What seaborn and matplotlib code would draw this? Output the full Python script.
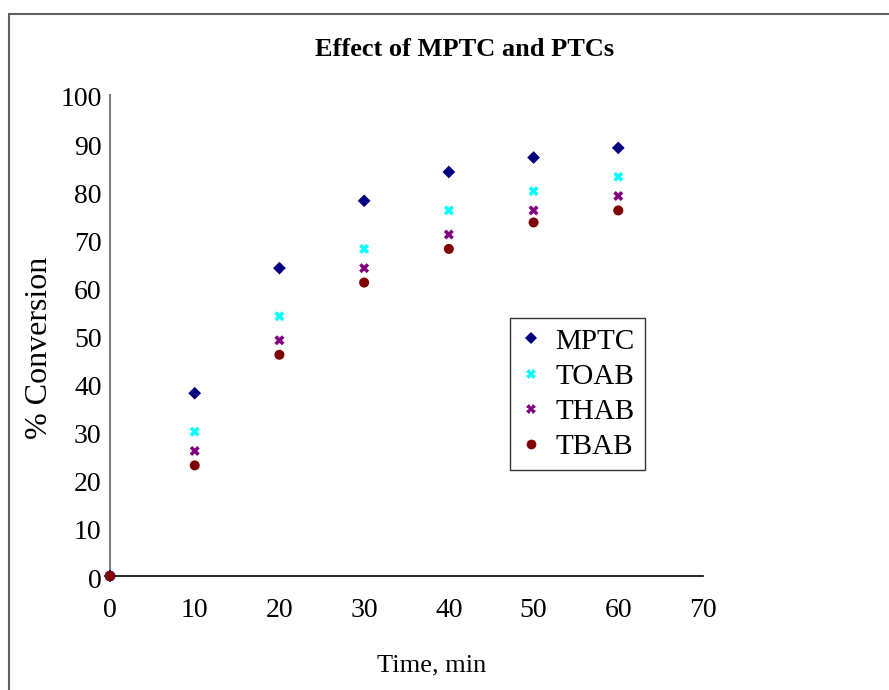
import matplotlib
matplotlib.use("Agg")
import matplotlib.pyplot as plt
import matplotlib.transforms as mtransforms
import seaborn as sns
import pandas as pd
from matplotlib.lines import Line2D

time_min = [0, 10, 20, 30, 40, 50, 60]
mptc = [0, 38, 64, 78, 84, 87, 89]
toab = [0, 30, 54, 68, 76, 80, 83]
thab = [0, 26, 49, 64, 71, 76, 79]
tbab = [0, 23, 46, 61, 68, 73.5, 76]
series_names = ["MPTC", "TOAB", "THAB", "TBAB"]
x_ticks = [0, 10, 20, 30, 40, 50, 60, 70]
y_ticks = [0, 10, 20, 30, 40, 50, 60, 70, 80, 90, 100]

df = pd.DataFrame({"Time": time_min * 4,
                   "Conversion": mptc + toab + thab + tbab,
                   "Series": sum([[n] * len(time_min) for n in series_names], [])})

sns.set_style("white")
plt.rcParams['font.family'] = ['Liberation Serif', 'DejaVu Serif']
plt.rcParams['text.color'] = 'black'
plt.rcParams['axes.labelcolor'] = 'black'
plt.rcParams['xtick.color'] = 'black'
plt.rcParams['ytick.color'] = 'black'

colors = {"MPTC": "#000080", "TOAB": "#00FFFF", "THAB": "#800080", "TBAB": "#800000"}
markers = {"MPTC": "D", "TOAB": "X", "THAB": "X", "TBAB": "o"}
sizes = {"MPTC": 42, "TOAB": 52, "THAB": 52, "TBAB": 52}

fig = plt.figure(figsize=(8.89, 6.9), dpi=100)
ax = fig.add_axes([110/889, 1-576/690, (703-110)/889, (576-95)/690])

for name in series_names:
    sub = df[df["Series"] == name]
    sns.scatterplot(data=sub, x="Time", y="Conversion", ax=ax, color=colors[name],
                    marker=markers[name], s=sizes[name], edgecolor="none",
                    linewidth=0, legend=False, clip_on=False, zorder=3)

ax.set_xlim(0, 70)
ax.set_ylim(0, 100)
ax.set_xticks(x_ticks)
ax.set_yticks(y_ticks)
ax.set_xticklabels([str(t) for t in x_ticks], fontsize=20, color="black")
ax.set_yticklabels([str(t) for t in y_ticks], fontsize=20, color="black")
ax.tick_params(axis="x", direction="in", length=6, width=1, color="black", pad=16)
ax.tick_params(axis="y", direction="out", length=5, width=1, color="black", pad=1)
offset = mtransforms.ScaledTranslation(0, -5/100, fig.dpi_scale_trans)
for lbl in ax.get_yticklabels():
    lbl.set_verticalalignment("center")
    lbl.set_transform(lbl.get_transform() + offset)
for s in ["top", "right"]:
    ax.spines[s].set_visible(False)
ax.spines["left"].set_color("#808080")
ax.spines["left"].set_linewidth(1.5)
ax.spines["bottom"].set_color("black")
ax.spines["bottom"].set_linewidth(1.2)

ax.set_xlabel("")
ax.set_ylabel("")
fig.text(432/889, 1-665/690, "Time, min", ha="center", va="center", fontsize=19)
fig.text(40/889, 1-348/690, "% Conversion", ha="center", va="center",
         rotation=90, fontsize=23)
fig.text(465/889, 1-49/690, "Effect of MPTC and PTCs", ha="center", va="center",
         fontsize=19, fontweight="bold")

handles = [Line2D([], [], linestyle="none", marker=markers[n], color=colors[n],
                  markersize=7 if n != "MPTC" else 6, markeredgewidth=0) for n in series_names]
leg = ax.legend(handles, series_names, loc="upper left",
                bbox_to_anchor=((510-110)/593, (576-318)/481),
                fontsize=21, frameon=True, fancybox=False, borderpad=0.35,
                handlelength=0.75, handletextpad=0.45, labelspacing=0.3,
                borderaxespad=0, markerscale=1.0)
leg.get_frame().set_edgecolor("black")
leg.get_frame().set_linewidth(1.0)
for t in leg.get_texts():
    t.set_color("black")

fig.add_artist(plt.Rectangle((8.5/889, -0.1), 1.2, 1.1 - 14.5/690,
                             transform=fig.transFigure, fill=False,
                             edgecolor="#606060", linewidth=1.5))

fig.savefig("out.png", dpi=100)
